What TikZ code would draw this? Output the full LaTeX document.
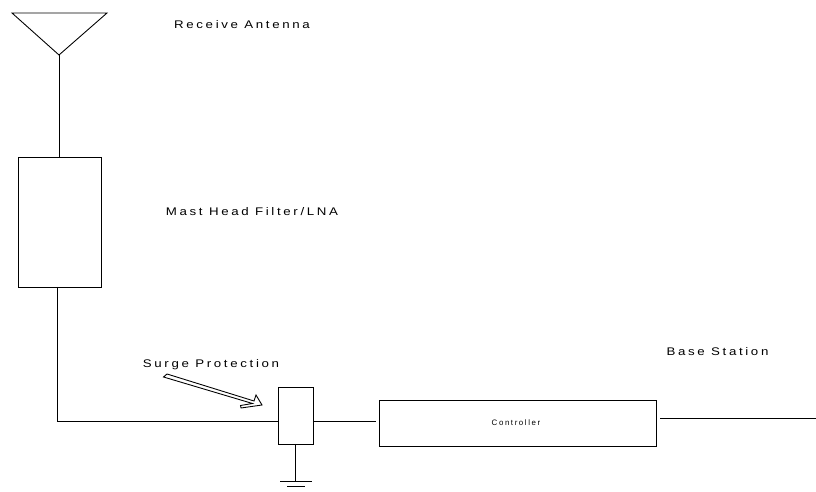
\documentclass[tikz,border=0pt]{standalone}
\usepackage{fontspec}
\setmainfont{Liberation Sans}
\newfontfamily\widefont[LetterSpace=20]{Liberation Sans}
\usepackage{tikz}
\usetikzlibrary{calc,positioning}
\tikzset{
  ln/.style={line width=0.5pt,black},
  box/.style={draw=black,line width=0.5pt,fill=white,inner sep=0pt,outer sep=0pt},
  lbl/.style={inner sep=0pt,font=\widefont\fontsize{6.3}{7}\selectfont,xscale=1.2},
  smalllbl/.style={inner sep=0pt,font=\widefont\fontsize{4.5}{5}\selectfont}
}
\begin{document}
\begin{tikzpicture}[x=0.02cm,y=-0.02cm]
\useasboundingbox (0,0) rectangle (816,492);
% antenna
\coordinate (antl) at (12,13);
\coordinate (antr) at (107,13);
\coordinate (antb) at (59,55);
\draw[ln] (antl)--(antr)--(antb)--cycle;
\node[box,minimum width=1.66cm,minimum height=2.6cm] (filt) at (59.5,222) {};
\node[box,minimum width=0.7cm,minimum height=1.14cm] (surge) at (295.5,415.5) {};
\node[box,minimum width=5.54cm,minimum height=0.92cm] (ctrl) at (517.5,423) {};
\node[smalllbl] (ctrltxt) at (516,423) {Controller};
% wires
\draw[ln] (antb)--(filt.north-|antb);
\coordinate (bend) at (57,421);
\draw[ln] (filt.south-|bend)--(bend)--(bend-|surge.west);
\coordinate (ctrlin) at (376,421);
\draw[ln] (ctrlin-|surge.east)--(ctrlin);
\coordinate (basel) at (660,418);
\coordinate (baser) at (816,418);
\draw[ln] (basel)--(baser);
% ground
\coordinate (gnd) at (295,481);
\coordinate (gndl) at (280,481);
\coordinate (gndr) at (312,481);
\coordinate (gndla) at (287,486);
\coordinate (gndra) at (305,486);
\draw[ln] (surge.south-|gnd)--(gnd);
\draw[ln] (gndl)--(gndr);
\draw[ln] (gndla)--(gndra);
% hollow arrow
\draw[ln] (163.5,377)--(167,374)--(254,401)--(256,395)--(262,405)--(241,408)--(240.5,405.5)--(252.5,403.5)--cycle;
\node[lbl] (rx) at (242,25) {Receive Antenna};
\node[lbl] (mast) at (252,212) {Mast Head Filter/LNA};
\node[lbl] (sp) at (211,365) {Surge Protection};
\node[lbl] (bs) at (717.5,352) {Base Station};
\end{tikzpicture}
\end{document}
